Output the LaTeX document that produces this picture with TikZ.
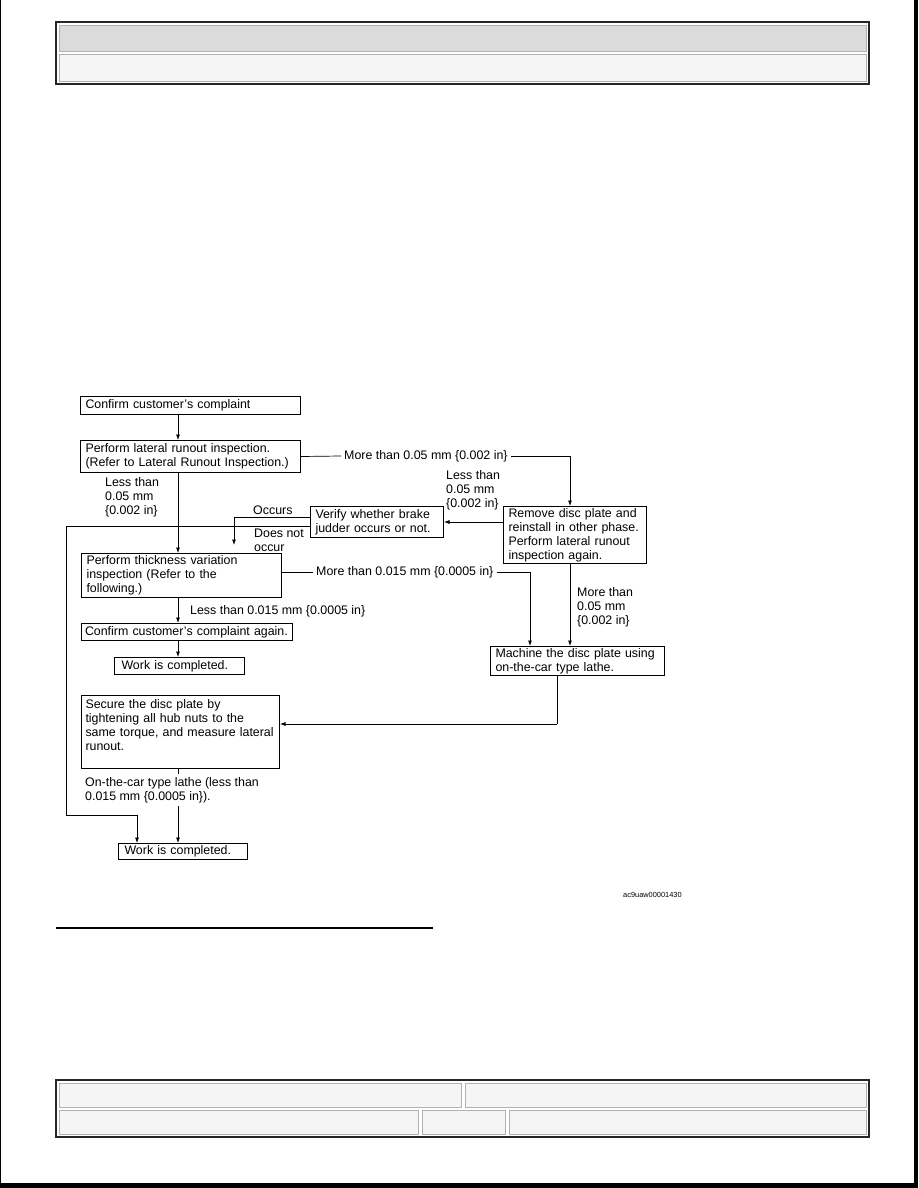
\documentclass[tikz,border=0pt]{standalone}
\usepackage{fontspec}
\setmainfont{Liberation Sans}
\usepackage{tikz}
\usetikzlibrary{calc}
\usetikzlibrary{arrows.meta}
\usetikzlibrary{positioning}
\tikzset{>=latex}
\tikzstyle{box} = [rectangle, draw=black, line width=1pt, anchor=north west, align=left, inner xsep=5pt, inner ysep=1pt]
\tikzstyle{lbl} = [anchor=west, align=left, inner sep=3pt]
\tikzstyle{arr} = [-{Latex[length=5.5pt, width=4pt]}, line width=0.7pt]
\tikzstyle{ln} = [-, line width=0.7pt]
\tikzstyle{cell} = [draw=black!30, line width=0.6pt]

\begin{document}
\begin{tikzpicture}[x=1pt, y=-1pt, font=\fontsize{12.4}{14}\selectfont]
\useasboundingbox (0,0) rectangle (918,1188);
% page edge
\fill [black] (914,0) rectangle (918,1188);
\fill [black] (0,1183) rectangle (918,1188);
\draw [line width=1pt] (0.5,0) -- (0.5,1183);

% header bar
\draw [black!85, line width=1.2pt] (56,22) rectangle (869,84);
\filldraw [cell, fill=black!14] (59,25) rectangle (866,51);
\filldraw [cell, fill=black!4] (59,54) rectangle (866,81);

% footer bar
\draw [black!85, line width=1.2pt] (56,1080) rectangle (869,1137);
\filldraw [cell, fill=black!4] (59,1083) rectangle (461,1107);
\filldraw [cell, fill=black!4] (465,1083) rectangle (866,1107);
\filldraw [cell, fill=black!4] (59,1110) rectangle (418,1134);
\filldraw [cell, fill=black!4] (422,1110) rectangle (505,1134);
\filldraw [cell, fill=black!4] (509,1110) rectangle (866,1134);

% rule under the chart
\draw [line width=2pt] (56,928) -- (433,928);

% helper columns and corners
\coordinate (spine) at (178,0);
\coordinate (rcol) at (570,0);
\coordinate (mcol) at (530,0);
\coordinate (occ) at (234,545);
\coordinate (lft) at (66,815);
\coordinate (wl) at (137,815);
\coordinate (mrow) at (557,724);

% boxes
\node [box, text width=210pt, minimum height=18pt] (C1) at (80,396) {Confirm customer's complaint};
\node [box, text width=210pt, minimum height=32pt] (LR) at (80,440) {Perform lateral runout inspection.\\(Refer to Lateral Runout Inspection.)};
\node [box, text width=133pt, minimum height=57pt] (RM) at (503,506) {Remove disc plate and\\reinstall in other phase.\\Perform lateral runout\\inspection again.};
\node [box, text width=123pt, minimum height=31pt] (VB) at (310,506) {Verify whether brake\\judder occurs or not.};
\node [box, text width=190pt, minimum height=44pt] (TV) at (81,553) {Perform thickness variation\\inspection (Refer to the\\following.)};
\node [box, inner xsep=3.5pt, text width=204pt, minimum height=17pt] (C2) at (81,623) {\mbox{Confirm customer's complaint again.}};
\node [box, minimum height=17pt, inner xsep=7pt, text width=116pt] (W1) at (114,657) {Work is completed.};
\node [box, text width=164pt, minimum height=29pt] (MC) at (490,646) {Machine the disc plate using\\on-the-car type lathe.};
\node [box, inner xsep=4pt, text width=190pt, minimum height=73pt] (SD) at (81,695) {Secure the disc plate by\\tightening all hub nuts to the\\\mbox{same torque, and measure lateral}\\runout.\\\mbox{}};
\node [box, minimum height=16pt, inner xsep=6pt, text width=117pt] (W2) at (118,843) {Work is completed.};

% labels
\node [lbl] (M1) at (341,456) {More than 0.05 mm \{0.002 in\}};
\node [lbl] (L1) at (102,497) {Less than\\0.05 mm\\\{0.002 in\}};
\node [lbl] (L2) at (443,490) {Less than\\0.05 mm\\\{0.002 in\}};
\node [lbl] (OC) at (250,510) {Occurs};
\node [lbl] (NO) at (251,540) {Does not\\occur};
\node [lbl] (M2) at (313,572) {More than 0.015 mm \{0.0005 in\}};
\node [lbl] (M3) at (574,607) {More than\\0.05 mm\\\{0.002 in\}};
\node [lbl] (L3) at (187,611) {Less than 0.015 mm \{0.0005 in\}};
\node [lbl] (LT) at (82,790) {On-the-car type lathe (less than\\0.015 mm \{0.0005 in\}).};
\node [lbl, font=\fontsize{7.4}{8}\selectfont] (ID) at (620,895) {ac9uaw00001430};

% connectors
\draw [arr] (C1.south -| spine) -- (LR.north -| spine);
\draw [ln] (LR.east) -- (M1.west);
\draw [arr] (M1.east) -| (RM.north -| rcol);
\draw [arr] (LR.south -| spine) -- (TV.north -| spine);
\draw [arr] (RM.west |- VB.east) -- (VB.east);
\draw [arr] ([yshift=4.5pt]VB.west) -| (occ);
\draw [arr] ([yshift=-4.5pt]VB.west) -| (lft) -- (wl) -- (wl |- W2.north);
\draw [ln] (TV.east |- M2.west) -- (M2.west);
\draw [arr] (M2.east) -| (MC.north -| mcol);
\draw [arr] (RM.south -| rcol) -- (MC.north -| rcol);
\draw [arr] (TV.south -| spine) -- (C2.north -| spine);
\draw [arr] (C2.south -| spine) -- (W1.north -| spine);
\draw [ln] (MC.south -| mrow) -- (mrow);
\draw [arr] (mrow) -- (SD.east |- mrow);
\draw [ln] (SD.south -| spine) -- (LT.north -| spine);
\draw [arr] (LT.south -| spine) -- (W2.north -| spine);
\end{tikzpicture}
\end{document}
